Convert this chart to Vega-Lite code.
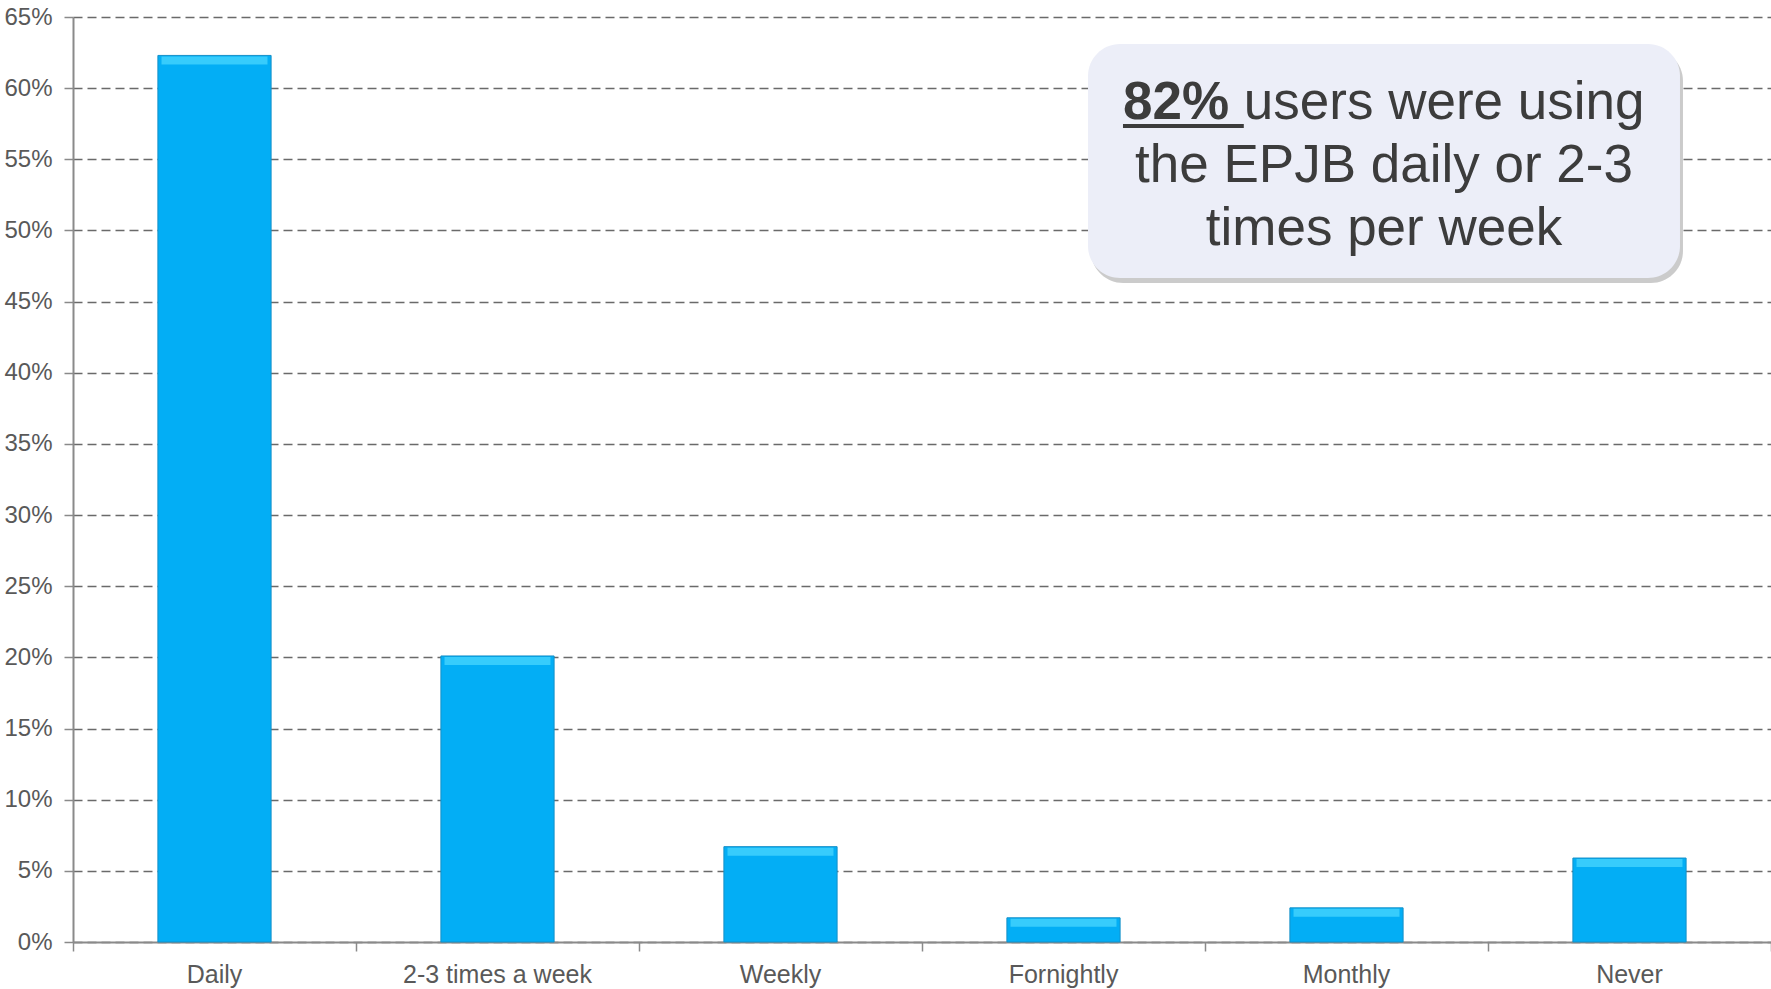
{
  "$schema": "https://vega.github.io/schema/vega-lite/v6.json",
  "width": 1698,
  "height": 925,
  "autosize": "none",
  "padding": {"left": 73, "top": 17, "right": 0, "bottom": 47},
  "background": "white",
  "config": {"view": {"stroke": null}, "font": "Liberation Sans"},
  "datasets": {
    "usage": [
      {"frequency": "Daily", "share": 0.623},
      {"frequency": "2-3 times a week", "share": 0.201},
      {"frequency": "Weekly", "share": 0.067},
      {"frequency": "Fornightly", "share": 0.017},
      {"frequency": "Monthly", "share": 0.024},
      {"frequency": "Never", "share": 0.059}
    ]
  },
  "resolve": {"scale": {"x": "independent"}},
  "layer": [
    {
      "data": {"name": "usage"},
      "encoding": {
        "x": {
          "field": "frequency",
          "type": "nominal",
          "sort": null,
          "scale": {"paddingInner": 0, "paddingOuter": 0},
          "axis": {
            "title": null,
            "labelAngle": 0,
            "labelLimit": 0,
            "labelFont": "Liberation Sans",
            "labelFontSize": 25,
            "labelColor": "#595959",
            "labelPadding": 11,
            "bandPosition": 1,
            "tickExtra": true,
            "tickSize": 9,
            "tickColor": "#8a8a8a",
            "tickWidth": 1.5,
            "domainColor": "#8a8a8a",
            "domainWidth": 2,
            "grid": false
          }
        },
        "y": {
          "field": "share",
          "type": "quantitative",
          "title": null,
          "scale": {"domain": [0, 0.65], "nice": false},
          "axis": {
            "title": null,
            "values": [0, 0.05, 0.1, 0.15, 0.2, 0.25, 0.3, 0.35, 0.4, 0.45, 0.5, 0.55, 0.6, 0.65],
            "format": ".0%",
            "labelFont": "Liberation Sans",
            "labelFontSize": 24,
            "labelColor": "#595959",
            "labelPadding": 12,
            "tickSize": 9,
            "tickColor": "#8a8a8a",
            "tickWidth": 1.5,
            "domainColor": "#8a8a8a",
            "domainWidth": 2,
            "grid": true,
            "gridColor": "#6a6a6a",
            "gridWidth": 1.3,
            "gridDash": [9, 5]
          }
        }
      },
      "layer": [
        {
          "mark": {"type": "bar", "width": {"band": 0.4}, "color": "#03aef5", "stroke": "#1590c8", "strokeWidth": 1}
        },
        {
          "mark": {"type": "tick", "size": 106, "thickness": 8, "yOffset": 5, "color": "#4fd9ff"}
        }
      ]
    },
    {
      "data": {"values": [{}]},
      "layer": [
        {
          "mark": {"type": "rect", "fill": "#8c8c8c", "opacity": 0.45, "cornerRadius": 32, "xOffset": 3, "x2Offset": 3, "yOffset": 5, "y2Offset": 5},
          "encoding": {
            "x": {"datum": 3.5866, "type": "quantitative", "scale": {"domain": [0, 6], "nice": false, "zero": false}, "axis": null},
            "x2": {"datum": 5.6784},
            "y": {"datum": 0.631, "type": "quantitative", "title": null},
            "y2": {"datum": 0.4666}
          }
        },
        {
          "mark": {"type": "rect", "fill": "#eceef8", "cornerRadius": 32},
          "encoding": {
            "x": {"datum": 3.5866, "type": "quantitative", "scale": {"domain": [0, 6], "nice": false, "zero": false}, "axis": null},
            "x2": {"datum": 5.6784},
            "y": {"datum": 0.631, "type": "quantitative", "title": null},
            "y2": {"datum": 0.4666}
          }
        },
        {
          "mark": {"type": "text", "text": "82%", "font": "Liberation Sans", "fontSize": 53, "fontWeight": "bold", "align": "left", "baseline": "alphabetic", "color": "#3c3c3c"},
          "encoding": {
            "x": {"datum": 3.7102, "type": "quantitative", "scale": {"domain": [0, 6], "nice": false, "zero": false}, "axis": null},
            "y": {"datum": 0.5783, "type": "quantitative", "title": null}
          }
        },
        {
          "mark": {"type": "text", "text": "users were using", "font": "Liberation Sans", "fontSize": 53, "align": "left", "baseline": "alphabetic", "color": "#3c3c3c"},
          "encoding": {
            "x": {"datum": 4.1371, "type": "quantitative", "scale": {"domain": [0, 6], "nice": false, "zero": false}, "axis": null},
            "y": {"datum": 0.5783, "type": "quantitative", "title": null}
          }
        },
        {
          "mark": {"type": "rule", "color": "#3c3c3c", "strokeWidth": 4},
          "encoding": {
            "x": {"datum": 3.7102, "type": "quantitative", "scale": {"domain": [0, 6], "nice": false, "zero": false}, "axis": null},
            "x2": {"datum": 4.1371},
            "y": {"datum": 0.5734, "type": "quantitative", "title": null}
          }
        },
        {
          "mark": {"type": "text", "text": "the EPJB daily or 2-3", "font": "Liberation Sans", "fontSize": 53, "align": "center", "baseline": "alphabetic", "color": "#3c3c3c"},
          "encoding": {
            "x": {"datum": 4.6325, "type": "quantitative", "scale": {"domain": [0, 6], "nice": false, "zero": false}, "axis": null},
            "y": {"datum": 0.5341, "type": "quantitative", "title": null}
          }
        },
        {
          "mark": {"type": "text", "text": "times per week", "font": "Liberation Sans", "fontSize": 53, "align": "center", "baseline": "alphabetic", "color": "#3c3c3c"},
          "encoding": {
            "x": {"datum": 4.6325, "type": "quantitative", "scale": {"domain": [0, 6], "nice": false, "zero": false}, "axis": null},
            "y": {"datum": 0.4898, "type": "quantitative", "title": null}
          }
        }
      ]
    }
  ]
}
